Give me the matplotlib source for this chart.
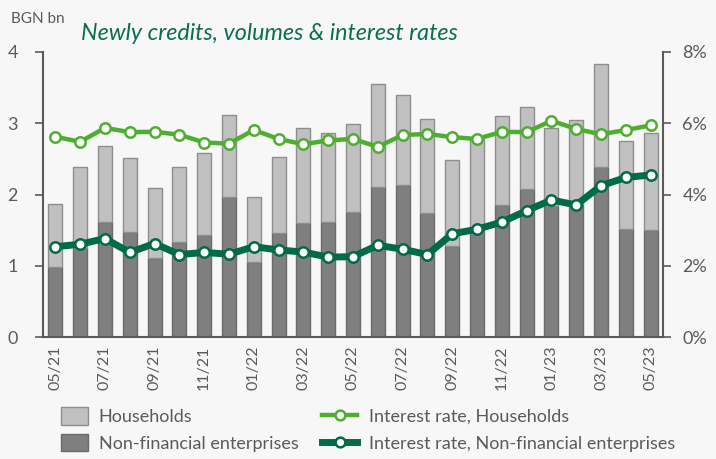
import matplotlib
matplotlib.use("Agg")
import matplotlib.pyplot as plt
import numpy as np
from matplotlib.lines import Line2D
from matplotlib.patches import Patch

months = ["05/21", "06/21", "07/21", "08/21", "09/21", "10/21", "11/21", "12/21",
          "01/22", "02/22", "03/22", "04/22", "05/22", "06/22", "07/22", "08/22",
          "09/22", "10/22", "11/22", "12/22", "01/23", "02/23", "03/23", "04/23",
          "05/23"]

# Totals (BGN bn) and the non-financial enterprises part of each bar
total_volume = [1.87, 2.39, 2.68, 2.52, 2.09, 2.38, 2.59, 3.12,
                1.97, 2.53, 2.93, 2.86, 2.99, 3.55, 3.39, 3.06,
                2.48, 2.78, 3.10, 3.23, 2.93, 3.05, 3.83, 2.75,
                2.87]
nfe_volume = [0.98, 1.25, 1.62, 1.47, 1.11, 1.33, 1.43, 1.97,
              1.05, 1.46, 1.60, 1.62, 1.75, 2.10, 2.13, 1.74,
              1.28, 1.50, 1.86, 2.08, 1.84, 1.87, 2.38, 1.52,
              1.50]
households_volume = [t - n for t, n in zip(total_volume, nfe_volume)]

# Interest rates, %
rate_households = [5.62, 5.48, 5.87, 5.75, 5.76, 5.68, 5.46, 5.43,
                   5.81, 5.56, 5.41, 5.52, 5.56, 5.34, 5.67, 5.70,
                   5.61, 5.56, 5.76, 5.75, 6.07, 5.84, 5.69, 5.81,
                   5.94]
rate_nfe = [2.54, 2.61, 2.77, 2.38, 2.63, 2.32, 2.38, 2.33,
            2.54, 2.45, 2.39, 2.25, 2.26, 2.58, 2.47, 2.32,
            2.90, 3.03, 3.23, 3.55, 3.85, 3.71, 4.25, 4.48,
            4.55]

FONT = "Lato"
plt.rcParams["font.family"] = [FONT, "DejaVu Sans"]

BG = "#f7f7f7"
AXIS_GREY = "#5a5a5a"
LIGHT_BAR = "#c0c0c0"
LIGHT_EDGE = "#8e8e8e"
DARK_BAR = "#7f7f7f"
DARK_EDGE = "#6a6a6a"
GREEN_LIGHT = "#4dae2f"
GREEN_DARK = "#006b45"
TITLE_GREEN = "#0b6e4f"

fig = plt.figure(figsize=(7.16, 4.59), dpi=100, facecolor=BG)
ax = fig.add_axes([0.060, 0.265, 0.866, 0.622])
ax.set_facecolor(BG)

x = np.arange(len(months))
w = 0.57
ax.bar(x, nfe_volume, width=w, color=DARK_BAR, edgecolor=DARK_EDGE, linewidth=1.0, zorder=2)
ax.bar(x, households_volume, width=w, bottom=nfe_volume, color=LIGHT_BAR,
       edgecolor=LIGHT_EDGE, linewidth=1.0, zorder=2)

ax.set_xlim(-0.5, len(months) - 0.5)
ax.set_ylim(0, 4)
ax.set_yticks([0, 1, 2, 3, 4])
ax.set_xticks(x[::2])
ax.set_xticklabels(months[::2], rotation=90, fontsize=11.5, color=AXIS_GREY)
ax.tick_params(axis="x", length=0, pad=6)
ax.tick_params(axis="y", length=6, width=1.2, color=AXIS_GREY, labelcolor=AXIS_GREY,
               labelsize=13, pad=12)
for s in ("top", "right"):
    ax.spines[s].set_visible(False)
for s in ("left", "bottom"):
    ax.spines[s].set_color(AXIS_GREY)
    ax.spines[s].set_linewidth(1.5)

ax2 = ax.twinx()
ax2.set_ylim(0, 8)
ax2.set_yticks([0, 2, 4, 6, 8])
ax2.set_yticklabels(["0%", "2%", "4%", "6%", "8%"])
ax2.tick_params(axis="y", length=6, width=1.2, color=AXIS_GREY, labelcolor=AXIS_GREY,
                labelsize=13, pad=8)
for s in ("top", "left", "bottom"):
    ax2.spines[s].set_visible(False)
ax2.spines["right"].set_color(AXIS_GREY)
ax2.spines["right"].set_linewidth(1.5)

ax2.plot(x, rate_households, color=GREEN_LIGHT, lw=3.2, marker="o", ms=7.5,
         mfc="white", mec=GREEN_LIGHT, mew=1.8, zorder=3)
ax2.plot(x, rate_nfe, color=GREEN_DARK, lw=5, marker="o", ms=7.5,
         mfc="white", mec=GREEN_DARK, mew=1.8, zorder=4)

fig.text(0.377, 0.927, "Newly credits, volumes & interest rates", ha="center", va="center",
         fontsize=16.8, style="italic", color=TITLE_GREEN)
fig.text(0.015, 0.958, "BGN bn", ha="left", va="center", fontsize=11, color=AXIS_GREY)

# Bar legend (left column) and line legend (right column)
bar_handles = [
    Patch(facecolor=LIGHT_BAR, edgecolor=LIGHT_EDGE, linewidth=1.0),
    Patch(facecolor=DARK_BAR, edgecolor=DARK_EDGE, linewidth=1.0),
]
line_handles = [
    Line2D([], [], color=GREEN_LIGHT, lw=3.2, marker="o", ms=7, mfc="white",
           mec=GREEN_LIGHT, mew=1.8),
    Line2D([], [], color=GREEN_DARK, lw=5, marker="o", ms=7, mfc="white",
           mec=GREEN_DARK, mew=1.8),
]
common = dict(loc="center left", frameon=False, fontsize=13, borderpad=0,
              borderaxespad=0, labelspacing=0.5, labelcolor=AXIS_GREY)
leg1 = fig.legend(bar_handles, ["Households", "Non-financial enterprises"],
                  bbox_to_anchor=(0.085, 0.064), handlelength=1.5, handleheight=1.1,
                  handletextpad=0.6, **common)
leg2 = fig.legend(line_handles, ["Interest rate, Households",
                                 "Interest rate, Non-financial enterprises"],
                  bbox_to_anchor=(0.4497, 0.064), handlelength=1.95, handleheight=1.1,
                  handletextpad=0.66, **common)

fig.savefig("out.png", dpi=100, facecolor=BG)
